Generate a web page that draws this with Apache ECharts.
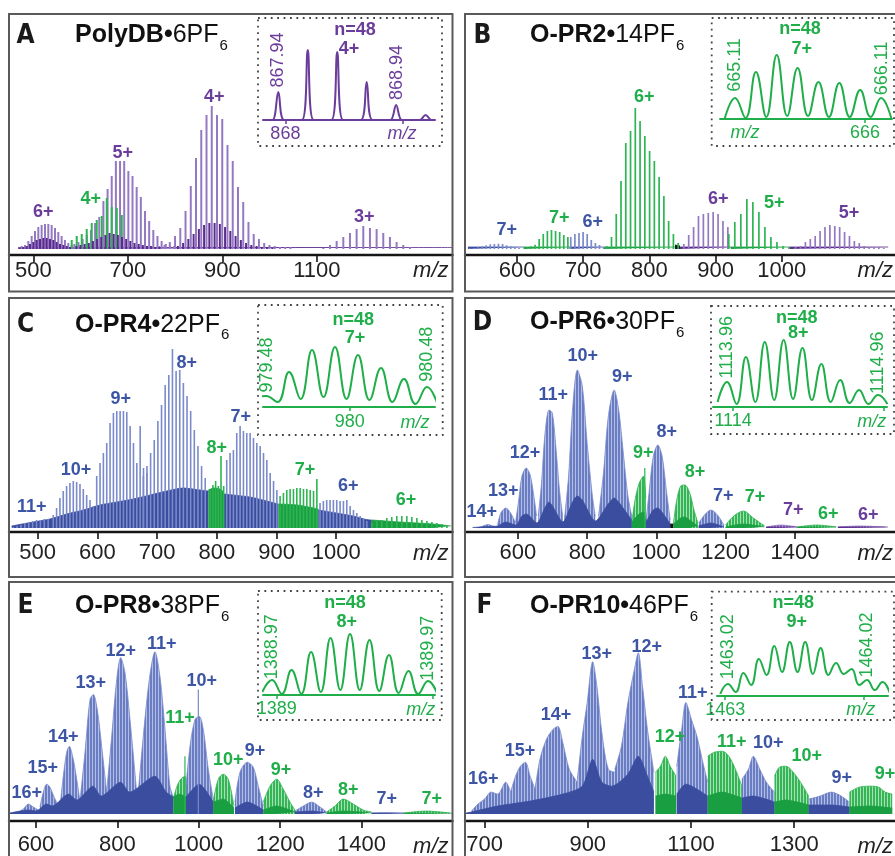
<!DOCTYPE html>
<html><head><meta charset="utf-8">
<script src="https://cdn.jsdelivr.net/npm/echarts@6/dist/echarts.min.js"></script>
<style>html,body{margin:0;padding:0;background:#fff}#c{width:895px;height:856px}</style>
</head><body><div id="c"></div>
<script>
// ================= DATA =================
// Stick clusters: [species, first m/z, spacing in m/z, heights]  (species: P purple, G green, B blue)
// ---- A: PolyDB•6PF6 ----
const tickA = [500, 700, 900, 1100];
const sticksA = [
  ['P', 475.4, 7.05, [3,4,8,13,18,22,24,25,25,24,21,17,13,9,6,4,2]],
  ['P', 586.8, 8.8, [5,7,10,14,19,26,32,48,60,73,88,88,88,78,73,62,52,38,28,19,13,8,5,4,3,2]],
  ['P', 766.7, 11.1, [3,4,7,13,21,38,63,91,119,134,143,134,130,104,88,62,47,27,15,10,6,4,3,2,2,2]],
  ['P', 1113.8, 14.1, [1,4,8,12,16,20,23,21,20,16,12,7,4,2]],
  ['G', 581.3, 10.6, [9,13,15,20,26,29,33,51,42,41,34]]
];
const darkA = [
  ['P', 479, 7.05, [2,3,5,7,9,10,11,11,10,9,7,5,4,3,2]],
  ['P', 591, 8.8, [3,4,5,6,8,10,12,14,16,15,14,12,10,8,6,5,4,3,3,2,2]],
  ['P', 806, 11.1, [3,6,10,15,20,24,26,26,25,22,18,13,9,6,4,3,2,2,1]]
];
const floorA = [['P', [[468,1.5],[1387,1.5]]]];
const labelsA = [['6+','P',43.3,211.7],['4+','G',90.7,199.3],['5+','P',122.7,152.7],['4+','P',214.3,96.7],['3+','P',364.3,216.7]];

// ---- B: O-PR2•14PF6 ----
const tickB = [600, 700, 800, 900, 1000];
const sticksB = [
  ['B', 528.5, 6.2, [0.7,1,1.7,2.7,3.7,4.7,5,5.3,5,3.7,2.7,1.7,1]],
  ['G', 614.8, 6.2, [1.7,2.7,4.3,10,15,18,19,18,17,14,12]],
  ['B', 681.2, 6.2, [12,15,16,17,15,9,6,4,2]],
  ['G', 735.5, 7.2, [3,12,35,68,106,118,141,128,113,98,88,72,53,28,15,6]],
  ['P', 852, 7.4, [5,14,22,33,35,36,37,35,28,22]],
  ['G', 920, 9.1, [15,27,35,50,47,37,22,12,7,3,2,1]],
  ['P', 1021, 7.4, [2,3,7,10,13,18,22,24,23,22,17,13,8,6,3,2,2,2,1]]
];
const floorB = [
  ['B',[[525.7,2],[609.9,2]]],['G',[[609.9,2],[679.3,2]]],['B',[[679.3,2],[731,2]]],
  ['G',[[731,2],[838.8,2]]],['K',[[838.8,4],[846.2,3]]],['P',[[846.2,2],[923,2]]],
  ['G',[[923,2],[1011.4,2]]],['P',[[1011.4,2],[1161,2]]]
];
const labelsB = [['7+','B',506.7,230],['7+','G',559.3,218.3],['6+','B',592.7,221.7],['6+','G',644.3,96.7],['6+','P',718.3,199.3],['5+','G',774.3,203.3],['5+','P',849,213.3]];

// ---- C: O-PR4•22PF6 ----
const tickC = [500, 600, 700, 800, 900, 1000];
const sticksC = [
  ['B', 459, 6.5, [1,2,3,5,6,7,8,8,9,9]],
  ['B', 526, 5.6, [13,20,30,37,42,45,47,46,44,39,33,28,22]],
  ['B', 598.8, 5.6, [52,65,75,85,105,115,117,117,117,116,102,85,65,102,60,55]],
  ['B', 676.9, 6.1, [52,62,75,88,107,123,143,153,179,157,158,145,132,117,98,82,62,50]],
  ['G', 789, 4.5, [38,43,47,42,72,42]],
  ['B', 816.6, 5.6, [68,75,78,95,102,97,95,95,90,85,82,75,68,55,47,38]],
  ['G', 906, 5.6, [32,35,38,39,39,40,40,39,39,38,37,49]],
  ['B', 972.9, 5.6, [25,27,28,28,28,28,27,27,28,22,18,15,12,9,7]],
  ['G', 1059.5, 8.4, [5,7,8,10,11,12,12,12,11,10,8,7,6,5,4,3]]
];
const floorC = [
  ['B',[[456.4,2],[492.6,6],[520.6,9],[548.6,14],[576.4,18],[604.4,23],[632.3,26],[660.1,29],[688.1,33],[716.1,37],[743.9,40],[771.9,38],[785.8,37]]],
  ['G',[[785.8,38],[795,40],[805,39],[812,36]]],
  ['B',[[812,34],[827.6,33],[855.5,31],[883.6,27],[903,24]]],
  ['G',[[903,24],[935,23],[970,19]]],
  ['B',[[970,18],[1000.3,15],[1028.3,12],[1056.6,8],[1059.5,8]]],
  ['G',[[1059.5,8],[1106.9,6],[1162.7,4],[1192,2]]]
];
const labelsC = [['11+','B',31.7,507.3],['10+','B',76,470],['9+','B',120.7,399],['8+','B',186.7,362.7],['8+','G',216.7,448.3],['7+','B',240.7,417.3],['7+','G',305,470],['6+','B',348.3,486],['6+','G',406,500]];

// ---- D: O-PR6•30PF6 ---- envelopes [species, [[m/z, height], ...]]
const tickD = [600, 800, 1000, 1200, 1400];
const envD = [
  ['B',[[485,0],[500,2],[513,3.5],[528,2],[542,0.5]]],
  ['B',[[541.6,3],[551.2,15],[565.3,20],[579.4,15],[593.5,5]]],
  ['B',[[593.5,5],[602.8,28],[612.1,52],[624.5,60],[635.8,53],[645.1,35],[654.4,12]]],
  ['B',[[659.2,12],[668.6,45],[678,92],[690.3,118],[699.6,115],[709,85],[720.4,38],[729.8,12]]],
  ['B',[[734.5,8],[746.7,52],[758,118],[772.1,158],[786.2,142],[800.3,85],[814.4,35],[823.7,12]]],
  ['B',[[833.3,12],[847.4,55],[861.5,112],[878.4,138],[891.4,118],[903.8,78],[917.9,32],[929.2,12]]],
  ['G',[[929.2,5],[938.5,28],[950.7,45],[963.1,52],[969.5,30]]],
  ['B',[[969.5,5],[978.9,35],[991.3,72],[1004.2,83],[1016.6,72],[1028.8,38],[1040.1,8]]],
  ['G',[[1049.5,5],[1058.9,28],[1070.2,42],[1082.4,43],[1096.5,35],[1108.7,18],[1120,5]]],
  ['B',[[1122.7,5],[1138.8,13],[1157.7,18],[1176.4,13],[1195.2,3]]],
  ['G',[[1200,3],[1223.4,12],[1251.6,17],[1279.8,10],[1312.8,2]]],
  ['P',[[1317.4,1],[1359.7,3],[1406.8,1]]],
  ['G',[[1406.8,1],[1463.2,3],[1519.6,1]]],
  ['P',[[1524.4,1],[1585.5,2],[1660.7,1]]]
];
const floorD = [
  ['B',[[470,0.5],[513,1.5],[542,2],[565,6],[594,3],[612,12],[625,14],[655,5],[678,20],[690,26],[700,22],[730,6],[758,26],[772,32],[786,28],[824,7],[861,24],[878,30],[891,26],[929,8]]],
  ['G',[[929,6],[950,14],[963,16],[969,6]]],
  ['B',[[969,5],[991,18],[1004,20],[1016,16],[1040,4]]],
  ['K',[[1040,4],[1049,4]]],
  ['G',[[1049,4],[1070,10],[1082,11],[1096,8],[1120,2]]],
  ['B',[[1122,2],[1158,5],[1195,1]]],
  ['G',[[1200,1],[1251,4],[1312,1]]],
  ['P',[[1317,1],[1406,1]]],
  ['G',[[1406,1],[1519,1]]],
  ['P',[[1524,1],[1668,1]]]
];
const spikesD = [['G', 966.7, 1, [60]]];
const labelsD = [['14+','B',481.7,511.7],['13+','B',503.3,491],['12+','B',525,453.3],['11+','B',553.3,395],['10+','B',582.7,355.7],['9+','B',622.3,376.7],['9+','G',643.3,453.3],['8+','B',666.7,431.7],['8+','G',695,471.7],['7+','B',723.3,496],['7+','G',755,496.7],['7+','P',793.3,510],['6+','G',828.3,514.3],['6+','P',868.3,515]];

// ---- E: O-PR8•38PF6 ----
const tickE = [600, 800, 1000, 1200, 1400];
const envE = [
  ['B',[[552.6,1],[568.8,5],[581.1,10],[593.4,7],[609.8,3]]],
  ['B',[[609.8,7],[618,22],[626.2,30],[634.4,27],[646.7,15],[659,7]]],
  ['B',[[659,7],[667.1,38],[675.4,62],[681.8,68],[691.6,55],[700,35],[708.1,13]]],
  ['B',[[708.1,13],[720.4,62],[732.7,115],[740.9,120],[750.6,105],[761.4,68],[773.7,22]]],
  ['B',[[773.7,22],[786,78],[798.3,135],[808.1,157],[818.7,142],[831,95],[847.4,22]]],
  ['B',[[851.4,22],[863.6,78],[878.4,135],[892.4,163],[904.7,138],[917,85],[929.2,28],[937.4,17]]],
  ['G',[[937.4,15],[945.7,27],[955.5,35],[966.1,38],[968.6,15]]],
  ['B',[[968.6,28],[978.4,68],[990.7,95],[1001.3,98],[1011.1,85],[1023.4,45],[1035.6,15]]],
  ['G',[[1035.6,13],[1047.9,35],[1060.2,40],[1072.5,35],[1086.5,8]]],
  ['B',[[1088.9,12],[1101.2,42],[1119.2,52],[1133.9,47],[1146.2,28],[1158.5,8]]],
  ['G',[[1158.5,12],[1174.9,28],[1191.4,35],[1207.6,25],[1224.1,12],[1236.4,4]]],
  ['B',[[1236.4,3],[1256.8,8],[1277.4,12],[1297.8,7],[1314.2,2]]],
  ['G',[[1314.2,2],[1334.6,8],[1355.1,15],[1379.6,10],[1404.2,4],[1424.8,2]]],
  ['B',[[1424.8,1],[1461.6,1.3],[1502.6,1]]],
  ['G',[[1502.6,1],[1559.9,3],[1617.2,1]]]
];
const floorE = [
  ['B',[[536,1],[581,4],[600,3],[626,10],[640,8],[680,20],[700,14],[740,28],[760,18],[808,32],[830,22],[892,38],[920,22],[937.4,17]]],
  ['G',[[937.4,17],[952,20],[968.6,17]]],
  ['B',[[968.6,17],[1001,30],[1035.6,12]]],
  ['G',[[1035.6,12],[1060,15],[1086.5,6]]],
  ['B',[[1088.9,6],[1119,12],[1158.5,4]]],
  ['G',[[1158.5,4],[1191,8],[1236.4,2]]],
  ['B',[[1236.4,2],[1277,3],[1314.2,1]]],
  ['G',[[1314.2,1],[1355,3],[1424.8,1]]],
  ['B',[[1424.8,1],[1502.6,0.8]]],
  ['G',[[1502.6,0.8],[1622,0.8]]]
];
const spikesE = [['B', 998.9, 1, [125]], ['G', 966, 1, [58]]];
const labelsE = [['16+','B',26.7,793.3],['15+','B',42.7,768.3],['14+','B',63.3,736.7],['13+','B',90.7,683.3],['12+','B',120.7,651],['11+','B',161.7,644.3],['10+','B',201.7,681],['11+','G',180,717.7],['10+','G',228.3,760],['9+','B',255,750.7],['9+','G',281,770],['8+','B',313.3,793.3],['8+','G',348.3,790],['7+','B',386.7,799],['7+','G',431.7,799]];

// ---- F: O-PR10•46PF6 ----
const tickF = [700, 900, 1100, 1300];
const envF = [
  ['B',[[674.8,3],[687.3,10],[700,15],[712.7,22],[725.2,20],[741.1,32],[750.6,22]]],
  ['B',[[750.6,22],[760,38],[769.5,48],[779,52],[788.4,38],[797.9,25]]],
  ['B',[[797.9,25],[807.4,55],[819.9,75],[832.6,85],[842,88],[851.5,72],[864.2,45],[879.9,32]]],
  ['B',[[879.9,35],[889.4,78],[898.9,112],[909.6,153],[917.8,128],[927.3,82],[939.9,45],[952.5,42]]],
  ['B',[[952.5,45],[965.2,68],[977.8,112],[990.3,145],[997.9,162],[1006.2,128],[1015.7,85],[1028.2,42]]],
  ['G',[[1031.4,42],[1040.9,48],[1050.4,58],[1059.8,48],[1071.2,38]]],
  ['B',[[1072.5,48],[1082,85],[1090.2,112],[1100.9,95],[1111.6,78],[1123,52],[1132.4,32]]],
  ['G',[[1132.4,58],[1145.1,62],[1160.8,63],[1173.5,58],[1186.2,45],[1198.7,28]]],
  ['B',[[1198.7,35],[1211.4,45],[1220.8,58],[1233.5,45],[1246.1,32],[1261.9,22]]],
  ['G',[[1261.9,38],[1271.4,47],[1284.1,48],[1296.6,43],[1312.3,32],[1328.2,18]]],
  ['B',[[1328.2,15],[1350.2,18],[1372.3,22],[1391.3,18],[1407,12]]],
  ['G',[[1407,22],[1426,27],[1448.1,28],[1463.9,27],[1476.5,22],[1490,20]]]
];
const floorF = [
  ['B',[[664,1],[674.8,2],[725.2,8],[788.4,13],[851.5,20],[889.4,28],[909.6,55],[927.3,32],[946.2,28],[977.8,40],[997.9,58],[1015.7,38],[1028.2,22]]],
  ['G',[[1031.4,18],[1050,20],[1071.2,18]]],
  ['B',[[1072.5,20],[1090,30],[1132.4,18]]],
  ['G',[[1132.4,18],[1160,22],[1198.7,16]]],
  ['B',[[1198.7,16],[1220,18],[1261.9,12]]],
  ['G',[[1261.9,12],[1284,14],[1328.2,9]]],
  ['B',[[1328.2,9],[1372,9],[1407,7]]],
  ['G',[[1407,7],[1448,8],[1490,6]]]
];
const labelsF = [['16+','B',483.3,779],['15+','B',520,750.7],['14+','B',556,715],['13+','B',596.7,654],['12+','B',646.7,646.7],['11+','B',692.7,693.3],['12+','G',670,736.7],['11+','G',731.7,741.7],['10+','B',768.3,743.3],['10+','G',806.7,755.7],['9+','B',841.7,777.7],['9+','G',885,774.3]];

// ---- Insets: isotope profiles (n=48) ----
const insetA_peaks = [28,70,68,38,15,5];                 // 4+, first 867.94
const insetB_peaks = [21,47,64,51,37,36,29,21];          // 7+, first 665.11
const insetB_valleys = [0,1,2,3,3,2,2,2,0];
const insetC_peaks = [11,35,57,60,52,39,28,20];          // 7+, first 979.48
const insetC_valleys = [9,5,8,10,8,7,5,3,0];
const insetD_peaks = [25,50,65,67,59,43,27,17,12];       // 8+, first 1113.96
const insetD_valleys = [5,3,5,7,8,7,5,4,3,3];
const insetE_peaks = [15,25,43,57,61,55,40,24,14];       // 8+, first 1388.97
const insetE_valleys = [3,1,1,3,5,5,4,2,1,0];
const insetF_peaks = [12,23,37,50,54,54,48,33,27,16,14]; // 9+, first 1463.02
const insetF_valleys = [2,4,11,21,24,24,22,21,22,11,6,2];

// ================= STYLE / LAYOUT =================
const FONT = "'Liberation Sans', Arial, Helvetica, sans-serif";
const COND = "'Liberation Sans Narrow', 'DejaVu Sans Condensed', 'Liberation Sans', sans-serif";
const SPN = ['P','G','B','K'];
const SPI = {P:0, G:1, B:2, K:3};
const TXT = {P:'#6b3d9b', G:'#1fae49', B:'#3c55a5', K:'#111'};
const LIGHT = {P:'#9479c2', G:'#2db552', B:'#7a8aca', K:'#222'};
const DARK = {P:'#5a2b8d', G:'#1a9e42', B:'#3a4d9f', K:'#111'};
const plain = (v) => String(v);

function stripe(c1, c2) {
  const cv = document.createElement('canvas'); cv.width = 3; cv.height = 4;
  const g = cv.getContext('2d'); g.fillStyle = c2; g.fillRect(0,0,3,4);
  g.fillStyle = c1; g.fillRect(0,0,2,4);
  return {image: cv, repeat: 'repeat'};
}
const PAT = {B: stripe('#6a7cc2','#b3bee6'), G: stripe('#34b656','#a8e0b6'), P: stripe('#8a6ab8','#cbbce2')};

const panels = [
  {x:9, w:443.5, top:14, base:249, axis:255, min:448.6, max:1387.2, ticks:tickA, margin:5, labY:271, sticks:sticksA, dark:darkA, floor:floorA, lw:2, labels:labelsA},
  {x:465, w:440, top:14, base:249, axis:255, min:521.3, max:521.3+440/0.677, ticks:tickB, margin:5, labY:271, sticks:sticksB, floor:floorB, lw:1.7, labels:labelsB},
  {x:9, w:443.5, top:298, base:528, axis:532, min:451.9, max:1194.8, ticks:tickC, margin:10, labY:553.5, sticks:sticksC, floor:floorC, lw:1.6, labels:labelsC},
  {x:465, w:440, top:298, base:528, axis:532, min:447.7, max:447.7+440/0.3545, ticks:tickD, margin:10, labY:553.5, env:envD, floor:floorD, sticks:spikesD, lw:1.2, labels:labelsD},
  {x:9, w:443.5, top:582, base:815, axis:822, min:533.7, max:1623.4, ticks:tickE, margin:13, labY:847, env:envE, floor:floorE, sticks:spikesE, lw:1.2, labels:labelsE},
  {x:465, w:440, top:582, base:815, axis:822, min:662.1, max:662.1+440/0.528, ticks:tickF, margin:13, labY:847, env:envF, floor:floorF, lw:1.2, labels:labelsF}
];
const borders = [[9,14,452.5,291.5],[465,14,910,291.5],[9,298,452.5,577],[465,298,910,577],[9,582,452.5,880],[465,582,910,880]];
const titles = [
  ['A','PolyDB•','6PF','6',25.5,36.5,75,35.5],
  ['B','O-PR2•','14PF','6',482.5,36.5,530,35.5],
  ['C','O-PR4•','22PF','6',25.5,325,75,325],
  ['D','O-PR6•','30PF','6',482.5,323.5,530,322.5],
  ['E','O-PR8•','38PF','6',25.5,606.5,75,606.5],
  ['F','O-PR10•','46PF','6',484.5,606.5,530,606.5]
];

function sharpProfile(first, spacing, peaks, w, xmin, xmax) {
  const pts = [[xmin,0]];
  peaks.forEach((h,i) => { const p = first + i*spacing; pts.push([p-w,0],[p,h],[p+w,0]); });
  pts.push([xmax,0]); return pts;
}
function profile(first, spacing, peaks, valleys) {
  const pts = [[first - spacing/2, valleys[0]]];
  peaks.forEach((h,i) => { pts.push([first + i*spacing, h]); pts.push([first + (i+0.5)*spacing, valleys[i+1]]); });
  return pts;
}
const insets = [
  {box:[258,18,442,146], left:263, right:435, top:30, base:120, min:867.81, max:869.27, ticks:[868,869], margin:5, sp:'P', smooth:0.35,
   pts: sharpProfile(867.94, 1/4, insetA_peaks, 0.05, 867.81, 869.27),
   texts:[['n=48',355,30,'b'],['4+',349,49,'b'],['867.94',278.3,60,'r'],['868.94',396.7,72.5,'r'],['m/z',402,134,'i']]},
  {box:[711.7,18,894,146], left:720, right:892, top:30, base:119, min:665.007, max:666.185, ticks:[666], margin:5, sp:'G', smooth:0.45,
   pts: profile(665.11, 1/7, insetB_peaks, insetB_valleys),
   texts:[['n=48',800,29.3,'b'],['7+',801.7,49.3,'b'],['665.11',735,65,'r'],['666.11',881.7,68.3,'r'],['m/z',745,133.3,'i']]},
  {box:[258,305,442.7,435], left:263, right:435, top:318, base:407, min:979.461, max:980.53, ticks:[980], margin:6, sp:'G', smooth:0.45,
   pts: profile(979.48, 1/7, insetC_peaks, insetC_valleys),
   texts:[['n=48',353.3,320,'b'],['7+',355,337.7,'b'],['979.48',266.7,365,'r'],['980.48',426.7,354.3,'r'],['m/z',415,422.7,'i']]},
  {box:[711,306,894,434], left:713, right:887, top:318, base:407, min:1113.867, max:1115.02, ticks:[1114,1115], margin:5, sp:'G', smooth:0.45,
   pts: profile(1113.96, 1/8, insetD_peaks, insetD_valleys),
   texts:[['n=48',796.7,318.3,'b'],['8+',798.3,333.3,'b'],['1113.96',726.7,347.3,'r'],['1114.96',878.3,362.7,'r'],['m/z',871.7,421.7,'i']]},
  {box:[258,591,441.7,720], left:263, right:435, top:606, base:695, min:1388.912, max:1390.015, ticks:[1389,1390], margin:5, sp:'G', smooth:0.45,
   pts: profile(1388.97, 1/8, insetE_peaks, insetE_valleys),
   texts:[['n=48',345,603.3,'b'],['8+',346.7,621.7,'b'],['1388.97',271.7,646.7,'r'],['1389.97',428.3,648.3,'r'],['m/z',420.7,710,'i']]},
  {box:[711.7,591.7,894,720], left:717, right:888, top:607, base:696, min:1462.941, max:1464.171, ticks:[1463,1464], margin:5, sp:'G', smooth:0.45,
   pts: profile(1463.02, 1/9, insetF_peaks, insetF_valleys),
   texts:[['n=48',793.3,603.3,'b'],['9+',796.7,621.7,'b'],['1463.02',728.3,646.7,'r'],['1464.02',866.7,645,'r'],['m/z',860.7,710,'i']]}
];

// ================= BUILD OPTION =================
const option = {animation:false, backgroundColor:'#fff', grid:[], xAxis:[], yAxis:[], series:[], graphic:[]};

function stickData(list, tone, out) {
  (list || []).forEach(([sp, mz0, step, hs]) => hs.forEach((h, i) => out.push([mz0 + i*step, h, SPI[sp], tone])));
}
function makeRender(lw) {
  return function (params, api) {
    const x = api.value(0), h = api.value(1), sp = SPN[api.value(2)], tone = api.value(3);
    const p0 = api.coord([x, 0]), p1 = api.coord([x, h]);
    return {type:'line', shape:{x1:p0[0], y1:p0[1], x2:p1[0], y2:p1[1]},
            style:{stroke: tone ? DARK[sp] : LIGHT[sp], lineWidth: lw}};
  };
}

panels.forEach((L) => {
  const gi = option.grid.length;
  option.grid.push({left:L.x, top:L.top, width:L.w, height:L.axis - L.top});
  option.xAxis.push({type:'value', gridIndex:gi, min:L.min, max:L.max,
    axisLine:{show:true, onZero:false, lineStyle:{color:'#151515', width:2.4}},
    axisTick:{show:true, customValues:L.ticks, length:7, inside:false, lineStyle:{color:'#151515', width:1.6}},
    axisLabel:{show:true, customValues:L.ticks, formatter:plain, margin:L.margin, fontSize:22, fontFamily:FONT, color:'#222'},
    splitLine:{show:false}});
  option.yAxis.push({type:'value', gridIndex:gi, min:-(L.axis - L.base), max:L.base - L.top, show:false});
  (L.env || []).forEach(([sp, pts]) => option.series.push({type:'line', xAxisIndex:gi, yAxisIndex:gi, data:pts,
    symbol:'none', smooth:0.3, lineStyle:{width:0.8, color:LIGHT[sp]}, areaStyle:{color:PAT[sp], opacity:1}, z:1, silent:true}));
  (L.floor || []).forEach(([sp, pts]) => option.series.push({type:'line', xAxisIndex:gi, yAxisIndex:gi, data:pts,
    symbol:'none', smooth:0.25, lineStyle:{width:0.8, color:DARK[sp]}, areaStyle:{color:DARK[sp], opacity:1}, z:2, silent:true}));
  const sd = [];
  stickData(L.sticks, 0, sd);
  stickData(L.dark, 1, sd);
  option.series.push({type:'custom', xAxisIndex:gi, yAxisIndex:gi, data:sd, dimensions:['mz','h','sp','tone'],
    encode:{x:0, y:1}, renderItem:makeRender(L.lw), clip:true, z:3, silent:true});
  L.labels.forEach(([t, sp, x, y]) => option.graphic.push({type:'text', x:x, y:y, z:20,
    style:{text:t, fontSize:18, fontWeight:'bold', fontFamily:FONT, fill:TXT[sp], align:'center', verticalAlign:'middle'}}));
  option.graphic.push({type:'text', x:L.x + L.w > 900 ? 893 : L.x + L.w - 4, y:L.labY, z:20,
    style:{text:'m/z', fontSize:22, fontStyle:'italic', fontFamily:FONT, fill:'#222', align:'right', verticalAlign:'middle'}});
});

insets.forEach((I) => {
  const gi = option.grid.length;
  const col = TXT[I.sp];
  option.grid.push({left:I.left, top:I.top, width:I.right - I.left, height:I.base - I.top});
  option.xAxis.push({type:'value', gridIndex:gi, min:I.min, max:I.max,
    axisLine:{show:true, onZero:false, lineStyle:{color:col, width:2}},
    axisTick:{show:true, customValues:I.ticks, length:4, lineStyle:{color:col, width:1.5}},
    axisLabel:{show:true, customValues:[I.ticks[0]], formatter:plain, margin:I.margin, fontSize:18, fontFamily:FONT, color:col},
    splitLine:{show:false}});
  option.yAxis.push({type:'value', gridIndex:gi, min:0, max:I.base - I.top, show:false});
  option.series.push({type:'line', xAxisIndex:gi, yAxisIndex:gi, data:I.pts, symbol:'none', smooth:I.smooth,
    lineStyle:{color:col, width:2}, clip:true, z:4, silent:true});
  option.graphic.push({type:'rect', z:15, shape:{x:I.box[0], y:I.box[1], width:I.box[2]-I.box[0], height:I.box[3]-I.box[1]},
    style:{fill:'none', stroke:'#444', lineWidth:1.8, lineDash:[1.8,4.6]}});
  I.texts.forEach(([t, x, y, k]) => option.graphic.push({type:'text', x:x, y:y, z:20, rotation: k === 'r' ? Math.PI/2 : 0,
    style:{text:t, fontSize:18, fontWeight: k === 'b' ? 'bold' : 'normal', fontStyle: k === 'i' ? 'italic' : 'normal',
           fontFamily:FONT, fill:col, align:'center', verticalAlign:'middle'}}));
});

borders.forEach(([x0,y0,x1,y1]) => option.graphic.push({type:'rect', z:10, shape:{x:x0, y:y0, width:x1-x0, height:y1-y0},
  style:{fill:'none', stroke:'#5a5a5a', lineWidth:2}}));

const mctx = document.createElement('canvas').getContext('2d');
titles.forEach(([letter, bold, reg, sub, lx, ly, tx, ty]) => {
  option.graphic.push({type:'text', x:lx, y:ly, z:20, style:{text:letter, fontSize:26, fontWeight:'bold', fontFamily:COND, fill:'#1a1a1a', align:'center', verticalAlign:'middle'}});
  mctx.font = 'bold 25px ' + FONT; const w1 = mctx.measureText(bold).width;
  mctx.font = '25px ' + FONT; const w2 = mctx.measureText(reg).width;
  option.graphic.push({type:'text', x:tx, y:ty, z:20, style:{text:bold, fontSize:25, fontWeight:'bold', fontFamily:FONT, fill:'#111', align:'left', verticalAlign:'middle'}});
  option.graphic.push({type:'text', x:tx + w1, y:ty, z:20, style:{text:reg, fontSize:25, fontFamily:FONT, fill:'#111', align:'left', verticalAlign:'middle'}});
  option.graphic.push({type:'text', x:tx + w1 + w2 + 1, y:ty + 10, z:20, style:{text:sub, fontSize:15, fontFamily:FONT, fill:'#111', align:'left', verticalAlign:'middle'}});
});

const chart = echarts.init(document.getElementById('c'), null, {renderer:'canvas'});
chart.setOption(option);
</script></body></html>
